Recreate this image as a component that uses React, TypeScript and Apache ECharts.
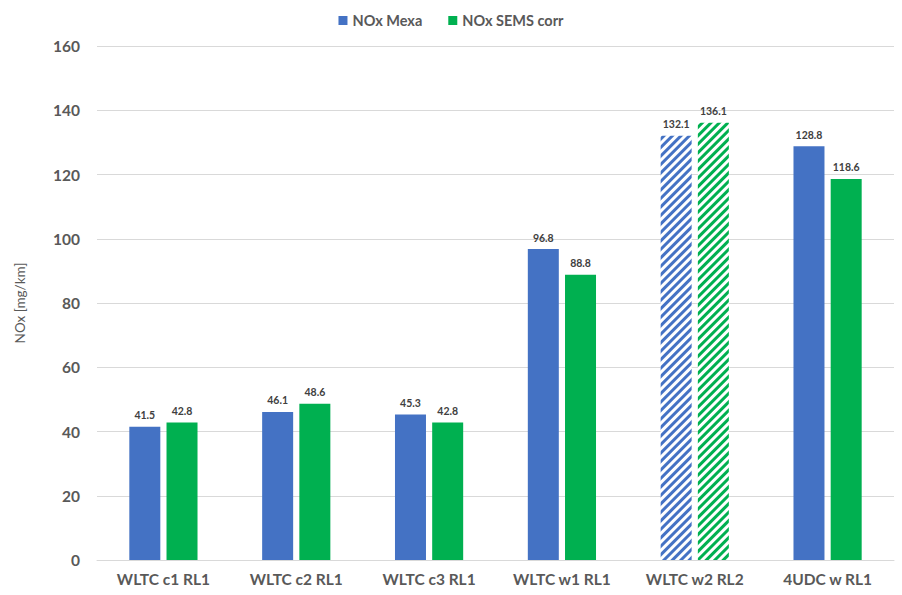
import React, { useEffect, useRef } from "react";
import * as echarts from "echarts";

const categories = ["WLTC c1 RL1", "WLTC c2 RL1", "WLTC c3 RL1", "WLTC w1 RL1", "WLTC w2 RL2", "4UDC w RL1"];
const mexaValues = [41.5, 46.1, 45.3, 96.8, 132.1, 128.8];
const semsValues = [42.8, 48.6, 42.8, 88.8, 136.1, 118.6];
const hatchedIndex = 4;

const BLUE = "#4472C4";
const GREEN = "#00B050";
const FONT = "Lato, 'Open Sans', sans-serif";

function makeData(values: number[], color: string) {
  return values.map((v, i) =>
    i === hatchedIndex
      ? {
          value: v,
          itemStyle: {
            color: "#ffffff",
            decal: {
              symbol: "rect",
              color,
              dashArrayX: [1, 0],
              dashArrayY: [3, 3],
              symbolSize: 1,
              rotation: -Math.PI / 4,
            },
          },
        }
      : { value: v }
  );
}

export default function App() {
  const ref = useRef<HTMLDivElement>(null);
  useEffect(() => {
    if (!ref.current) return;
    const chart = echarts.init(ref.current, null, { renderer: "svg" });
    const label = {
      show: true,
      position: "top",
      distance: 6,
      fontFamily: FONT,
      fontWeight: "bold",
      fontSize: 10.5,
      color: "#404040",
    };
    chart.setOption({
      animation: false,
      backgroundColor: "#ffffff",
      textStyle: { fontFamily: FONT },
      legend: {
        top: 8,
        left: "center",
        icon: "rect",
        itemWidth: 9,
        itemHeight: 9,
        itemGap: 26,
        textStyle: { fontFamily: FONT, fontWeight: "bold", fontSize: 14.5, color: "#595959" },
        data: ["NOx Mexa", "NOx SEMS corr"],
      },
      grid: { left: 97, right: 8, top: 46, bottom: 35 },
      xAxis: {
        type: "category",
        data: categories,
        axisLine: { show: true, lineStyle: { color: "#d9d9d9" } },
        axisTick: { show: false },
        axisLabel: { fontFamily: FONT, fontWeight: "bold", fontSize: 15.5, color: "#595959", margin: 11 },
      },
      yAxis: {
        type: "value",
        min: 0,
        max: 160,
        interval: 20,
        name: "NOx [mg/km]",
        nameLocation: "middle",
        nameGap: 70,
        nameTextStyle: { fontFamily: FONT, fontSize: 13.5, color: "#595959" },
        axisLine: { show: false },
        axisTick: { show: false },
        axisLabel: { fontFamily: FONT, fontWeight: "bold", fontSize: 15.5, color: "#595959", margin: 17 },
        splitLine: { lineStyle: { color: "#d9d9d9" } },
      },
      series: [
        {
          name: "NOx Mexa",
          type: "bar",
          itemStyle: { color: BLUE },
          barWidth: 31,
          barGap: "20%",
          label,
          data: makeData(mexaValues, BLUE),
        },
        {
          name: "NOx SEMS corr",
          type: "bar",
          itemStyle: { color: GREEN },
          barWidth: 31,
          label,
          data: makeData(semsValues, GREEN),
        },
      ],
    });
    return () => chart.dispose();
  }, []);
  return <div ref={ref} style={{ position: "fixed", left: 0, top: 0, width: 902, height: 595 }} />;
}
